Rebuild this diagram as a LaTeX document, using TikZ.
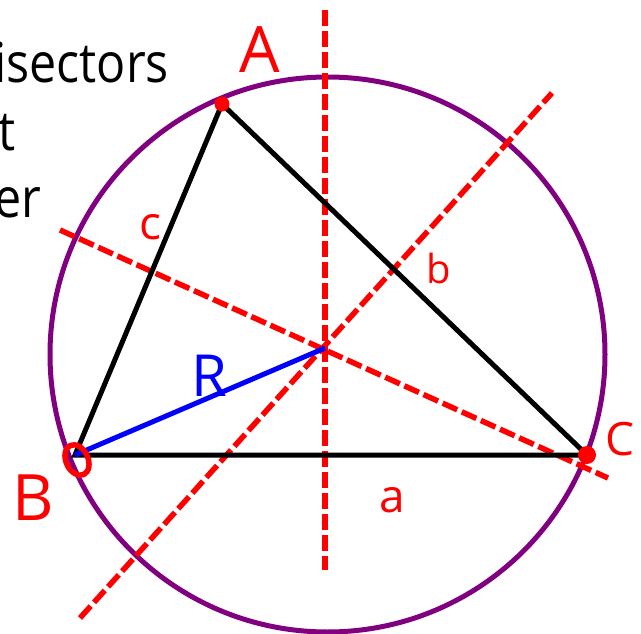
\documentclass[tikz,border=0pt]{standalone}
\usepackage{fontspec}
\setmainfont{Open Sans}
\definecolor{circ}{RGB}{128,0,128}
\definecolor{lab}{RGB}{255,0,0}
\definecolor{rad}{RGB}{0,0,255}
\begin{document}
\begin{tikzpicture}[x=1pt,y=-1pt,
  bis/.style={draw=lab,line width=5.5pt,dash pattern=on 16pt off 5pt},
  side/.style={draw=black,line width=5pt},
  lbl/.style={text=lab,inner sep=0pt},
  note/.style={text=black,inner sep=0pt,anchor=base west,font=\fontsize{55}{60}\selectfont,xscale=0.88}]
\useasboundingbox (0,0) rectangle (641,634);
\fill[white] (0,0) rectangle (641,634);
% points
\coordinate (A) at (222,104);
\coordinate (B) at (75,455);
\coordinate (C) at (587,455);
\coordinate (O) at (325,348);
\coordinate (V1) at (325,10);
\coordinate (V2) at (325,570);
\coordinate (P1) at (80,618);
\coordinate (P2) at (552,93);
\coordinate (Q1) at (60,230);
\coordinate (Q2) at (608,478);
% circumcircle
\draw[draw=circ,line width=5pt] (327.5,354.5) circle (277.5);
% bisectors
\draw[bis] (V1) -- (V2);
\draw[bis] (P1) -- (P2);
\draw[bis] (Q1) -- (Q2);
% triangle
\draw[side] (A) -- (B) -- (C) -- cycle;
% radius
\draw[draw=rad,line width=5pt] (B) -- (O);
% vertex marks
\fill[lab] (A) circle (7.5);
\fill[lab] (C) circle (9);
\draw[lab,line width=5.5pt,rotate around={25:(77,460)}] (77,460) ellipse (11 and 16);
% labels
\node[lbl,font=\fontsize{64}{64}\selectfont] (lA) at (260,50) {A};
\node[lbl,font=\fontsize{64}{64}\selectfont] (lB) at (33,498) {B};
\node[lbl,font=\fontsize{46}{46}\selectfont] (lC) at (620,439) {C};
\node[lbl,font=\fontsize{46}{46}\selectfont] (lc) at (150,227) {c};
\node[lbl,font=\fontsize{40}{40}\selectfont] (lb) at (439,268) {b};
\node[lbl,font=\fontsize{46}{46}\selectfont] (la) at (392,500) {a};
\node[text=rad,inner sep=0pt,font=\fontsize{58}{58}\selectfont] (lR) at (209,376) {R};
% cut-off text
\node[note] (t1) at (-6,83) {isectors};
\node[note] (t2) at (-2,150) {t};
\node[note] (t3) at (-6,217) {er};
\end{tikzpicture}
\end{document}
